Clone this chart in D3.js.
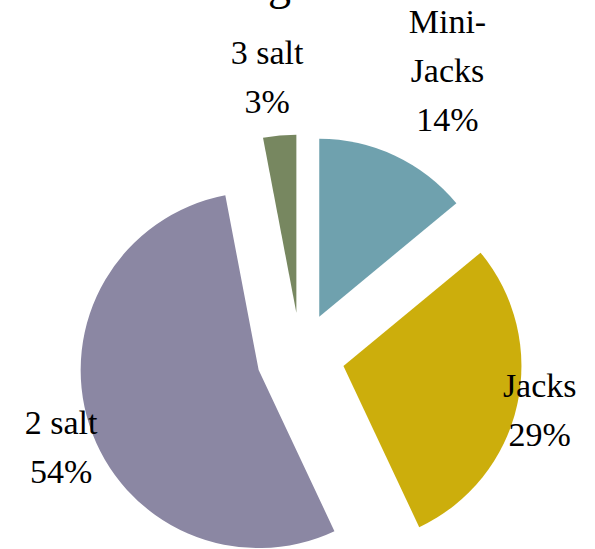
<!DOCTYPE html>
<html><head><meta charset="utf-8">
<script src="https://cdn.jsdelivr.net/npm/d3@7"></script>
<style>html,body{margin:0;padding:0;background:#fff;overflow:hidden}</style>
</head><body>
<svg id="chart" width="595" height="549"></svg>
<script>
const categories = ["Mini-Jacks", "Jacks", "2 salt", "3 salt"];
const values = [14, 29, 54, 3];
const colors = ["#6fa1ae", "#ccae0c", "#8b87a3", "#778760"];
const labelLines = [["Mini-", "Jacks", "14%"], ["Jacks", "29%"], ["2 salt", "54%"], ["3 salt", "3%"]];
const titleText = "Salting";

const svg = d3.select("#chart");
const W = 595, H = 549;
const cx = 300.5, cy = 356.5, R = 178, explode = 44;
const FONT = "Liberation Serif";

// title (mostly cut off above the frame, as in the reference)
svg.append("text").attr("x", 291).attr("y", -1).attr("text-anchor", "end")
  .attr("font-family", FONT).attr("font-size", 46).attr("fill", "#000").text(titleText);

const pie = d3.pie().sort(null).value(d => d).startAngle(0).endAngle(2 * Math.PI);
const arcs = pie(values);
const arcGen = d3.arc().innerRadius(0).outerRadius(R);

const g = svg.append("g").attr("transform", `translate(${cx},${cy})`);
g.selectAll("path").data(arcs).join("path")
  .attr("d", arcGen)
  .attr("fill", (d, i) => colors[i])
  .attr("transform", d => {
    const a = (d.startAngle + d.endAngle) / 2;
    return `translate(${explode * Math.sin(a)},${-explode * Math.cos(a)})`;
  });

// label centres as (distance from pie centre, angle shift in degrees)
const labelLayout = [[311, 3], [248, 2.7], [260, -5], [270, -1.7]];
const lineH = 49;
arcs.forEach((d, i) => {
  const a = (d.startAngle + d.endAngle) / 2 + labelLayout[i][1] * Math.PI / 180;
  const r = labelLayout[i][0];
  const x = cx + r * Math.sin(a), y = cy - r * Math.cos(a);
  const lines = labelLines[i];
  const n = lines.length;
  const t = svg.append("text").attr("text-anchor", "middle")
    .attr("font-family", FONT).attr("font-size", 34).attr("fill", "#000");
  lines.forEach((ln, k) => {
    t.append("tspan").attr("x", x)
      .attr("y", y + (k - (n - 1) / 2) * lineH)
      .text(ln);
  });
});
</script>
</body></html>
